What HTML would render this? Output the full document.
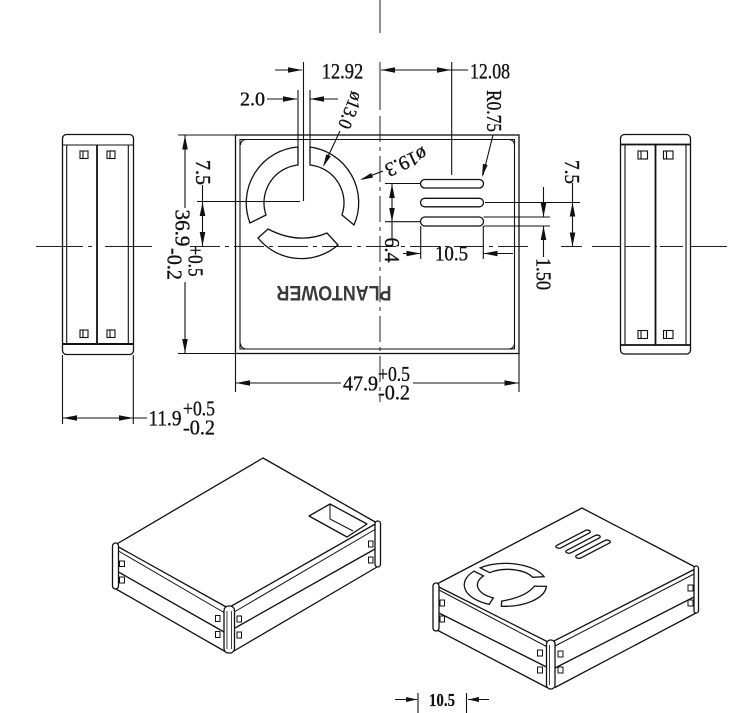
<!DOCTYPE html>
<html><head><meta charset="utf-8">
<style>
html,body{margin:0;padding:0;background:#fff;}
svg{display:block;}
text{font-family:"Liberation Serif",serif;fill:#111;}
</style></head><body>
<svg width="745" height="713" viewBox="0 0 745 713" xmlns="http://www.w3.org/2000/svg">
<defs>
<clipPath id="fanclip">
<g transform="matrix(0.5176 -0.2711 0.5275 0.2661 242.2 612.8)">
<path d="M298 147 A56 56 0 0 0 250 223 L266 215 A38 38 0 0 1 298 165 Z"/>
<path d="M310 147 A56 56 0 0 1 354 225 L342 215 A38 38 0 0 0 310 165 Z"/>
<path d="M268 229 Q298.5 245 327 233 L338 245 A56 56 0 0 1 258 238 Z"/>
</g>
</clipPath>
</defs>
<rect width="745" height="713" fill="#fff"/>

<!-- centre lines -->
<g fill="none" stroke="#222" stroke-width="1">
<path d="M380 0V33 M380 62V110"/>
<path d="M380 116V402" stroke-dasharray="26 5 4 5"/>
<path d="M36 246.5H153" stroke-dasharray="47 5 4 13"/>
<path d="M190 246.5H530" stroke-dasharray="30 5 4 5"/>
<path d="M561 246.5H582 M592 246.5H620 M625 246.5H650 M655 246.5H657 M660 246.5H683 M690 246.5H727"/>
</g>

<g fill="none" stroke="#111" stroke-width="1.1">
<!-- front view outline -->
<rect x="235.5" y="135" width="283.5" height="218.5" stroke-width="1.3"/>
<path d="M240 139.5H514.5V349H240Z"/>
<path d="M178 135H235 M178 353.5H235"/>
<path d="M240.5 145 A5.5 5.5 0 0 1 246 139.5 M509 139.5 A5.5 5.5 0 0 1 514.5 145 M514.5 343.5 A5.5 5.5 0 0 1 509 349 M240.5 343.5 A5.5 5.5 0 0 0 246 349"/>
<path d="M235.5 353V392 M519 353V392"/>

<!-- fan -->
<path d="M298 147 A56 56 0 0 0 250 223 L266 215 A38 38 0 0 1 298 165 Z" stroke-width="1.3"/>
<path d="M310 147 A56 56 0 0 1 354 225 L342 215 A38 38 0 0 0 310 165 Z" stroke-width="1.3"/>
<path d="M268 229 Q298.5 245 327 233 L338 245 A56 56 0 0 1 258 238 Z" stroke-width="1.3"/>
<path d="M298 90V147 M310 90V147"/>
<path d="M303.5 62V201 M197 201.5H300"/>

<!-- slots -->
<rect x="420.5" y="179.5" width="63" height="8.5" rx="4.25" stroke-width="1.3"/>
<rect x="420.5" y="198.3" width="63" height="8.5" rx="4.25" stroke-width="1.3"/>
<rect x="420.5" y="217" width="63" height="9" rx="4.5" stroke-width="1.3"/>

<path d="M385 183.5H420.5 M385 221.7H420.5 M485 202.5H580 M483.5 217H550 M483.5 226H550"/>
<path d="M451.7 62V175"/>
<path d="M420.7 226V259 M483.3 226V259"/>

<!-- dimension lines -->
<path d="M275 70H302"/>
<path d="M381 70H468"/>
<path d="M267 99H297 M310 99H338"/>
<path d="M340 131L324 165"/>
<path d="M383 171L362 179"/>
<path d="M493 135L483 175"/>
<path d="M202.5 185V246"/>
<path d="M185 135.5V208 M185 282V353"/>
<path d="M392 183.5V238"/>
<path d="M403 253.5H420.5 M483.5 253.5H513"/>
<path d="M543.5 187V217 M543.5 226V257"/>
<path d="M572.5 183V246.5"/>
<path d="M236 383H341 M413 383H518.5"/>

<!-- left side view -->
<rect x="62.5" y="134.5" width="71" height="220" rx="4" stroke-width="1.3"/>
<path d="M62.5 145H133.5"/>
<path d="M62.5 344H133.5" stroke-width="2"/>
<path d="M66.7 145V344 M128.3 145V344"/>
<path d="M97 145V344" stroke-width="1.8"/>
<rect x="80" y="151" width="8" height="7.5"/><path d="M83 151V158.5"/>
<rect x="107" y="151" width="8" height="7.5"/><path d="M110 151V158.5"/>
<rect x="80" y="330" width="8" height="7.5"/><path d="M83 330V337.5"/>
<rect x="107" y="330" width="8" height="7.5"/><path d="M110 330V337.5"/>
<path d="M62.5 355V424 M133.3 355V424"/>
<path d="M62.5 418H147"/>

<!-- right side view -->
<rect x="620.5" y="134.5" width="70" height="219.5" rx="4" stroke-width="1.3"/>
<path d="M620.5 144.5H690.5" stroke-width="1.8"/>
<path d="M620.5 345H690.5" stroke-width="1.8"/>
<path d="M625 144.5V345 M686 144.5V345"/>
<path d="M655.5 144.5V345" stroke-width="1.8"/>
<rect x="638" y="151" width="9.5" height="8"/><path d="M641 151V159"/>
<rect x="663.5" y="151" width="9.5" height="8"/><path d="M666.5 151V159"/>
<rect x="638" y="330.5" width="9.5" height="8"/><path d="M641 330.5V338.5"/>
<rect x="663.5" y="330.5" width="9.5" height="8"/><path d="M666.5 330.5V338.5"/>

<!-- bottom 10.5 dim -->
<path d="M418 693V713 M466.5 693V713"/>
<path d="M395 699.5H417 M468 699.5H489"/>
</g>

<!-- arrowheads -->
<g fill="#111" stroke="none">
<polygon points="302,70 288,67.2 288,72.8"/>
<polygon points="381,70 395,67.2 395,72.8"/>
<polygon points="451,70 437,67.2 437,72.8"/>
<polygon points="297,99 283,96.2 283,101.8"/>
<polygon points="310,99 324,96.2 324,101.8"/>
<polygon points="323,167 330.8,156.3 326.3,154.2"/>
<polygon points="360,180 373.0,177.6 371.2,173.0"/>
<polygon points="482,177 487.7,165.0 482.9,163.8"/>
<polygon points="202.5,202 199.7,216 205.3,216"/>
<polygon points="202.5,246 199.7,232 205.3,232"/>
<polygon points="185,135.5 182.2,149.5 187.8,149.5"/>
<polygon points="185,353 182.2,339 187.8,339"/>
<polygon points="392,184 389.2,198 394.8,198"/>
<polygon points="392,222 389.2,208 394.8,208"/>
<polygon points="420.5,253.5 406.5,250.7 406.5,256.3"/>
<polygon points="483.5,253.5 497.5,250.7 497.5,256.3"/>
<polygon points="543.5,217 540.7,203 546.3,203"/>
<polygon points="543.5,226 540.7,240 546.3,240"/>
<polygon points="572.5,202.5 569.7,216.5 575.3,216.5"/>
<polygon points="572.5,246.5 569.7,232.5 575.3,232.5"/>
<polygon points="236,383 250,380.2 250,385.8"/>
<polygon points="518.5,383 504.5,380.2 504.5,385.8"/>
<polygon points="63,418 77,415.2 77,420.8"/>
<polygon points="133,418 119,415.2 119,420.8"/>
<polygon points="417,699.5 406,697 406,702"/>
<polygon points="468,699.5 479,697 479,702"/>
</g>

<!-- LEFT 3D BOX -->
<g fill="none" stroke="#111" stroke-width="1.3" stroke-linejoin="round">
<path d="M115 545 L263 458 L377 523 L228 608 Z" fill="#fff"/>
<path d="M118.5 551 L224 612.5" stroke-width="1"/>
<path d="M118.5 572 L224 632"/>
<path d="M116 589 L226 652"/>
<path d="M235 611.5 L375 529.5" stroke-width="1"/>
<path d="M235 628 L375 549"/>
<path d="M234 651 L377 567"/>
<rect x="112.5" y="543" width="6" height="46" rx="3" fill="#fff"/>
<rect x="224" y="606" width="10.5" height="47" rx="4.5" fill="#fff"/>
<path d="M227 611V649 M231.5 611V649" stroke-width="0.8"/>
<rect x="375" y="521" width="5.5" height="46" rx="2.75" fill="#fff"/>
<path d="M309 516 L330 504 L367 524 L347 537 Z"/>
<path d="M330 504 V519 L353 531" stroke-width="1"/>
</g>
<g fill="none" stroke="#111" stroke-width="1">
<rect x="119.5" y="561" width="5" height="5.5"/>
<rect x="119.5" y="577" width="5" height="6"/>
<rect x="215.5" y="615.5" width="4.5" height="6"/>
<rect x="215.5" y="631.5" width="4.5" height="6"/>
<rect x="237" y="616" width="4.5" height="6"/>
<rect x="237" y="632" width="4.5" height="6"/>
<rect x="368.5" y="541" width="4.5" height="6"/>
<rect x="368.5" y="557" width="4.5" height="6"/>
</g>

<!-- RIGHT 3D BOX -->
<g fill="none" stroke="#111" stroke-width="1.3" stroke-linejoin="round">
<path d="M435 585 L582 508 L697 568 L550 643 Z" fill="#fff"/>
<path d="M439 590 L546.5 646.5" stroke-width="1"/>
<path d="M439 613 L546.5 667"/>
<path d="M437 630 L547 687.5"/>
<path d="M555 646 L694 574" stroke-width="1"/>
<path d="M555 668 L694 597"/>
<path d="M555 687.5 L696 613"/>
<rect x="433" y="583" width="6" height="48" rx="3" fill="#fff"/>
<rect x="546.5" y="640" width="8.5" height="49" rx="4" fill="#fff"/>
<path d="M549.5 645V685" stroke-width="0.8"/>
<rect x="694" y="566" width="4.5" height="47" rx="2.25" fill="#fff"/>
</g>
<g fill="none" stroke="#111" stroke-width="1">
<rect x="440" y="600" width="4.5" height="6"/>
<rect x="440" y="616" width="4.5" height="6"/>
<rect x="537.5" y="650" width="5" height="6"/>
<rect x="537.5" y="667" width="5" height="6"/>
<rect x="558" y="651" width="5" height="6"/>
<rect x="558" y="667" width="5" height="6"/>
<rect x="688" y="585" width="5" height="6"/>
<rect x="688" y="600" width="5" height="6"/>
</g>
<g clip-path="url(#fanclip)">
<g transform="translate(0 3.5)">
<g transform="matrix(0.5176 -0.2711 0.5275 0.2661 242.2 612.8)" fill="none" stroke="#111" stroke-width="1">
<path vector-effect="non-scaling-stroke" d="M298 147 A56 56 0 0 0 250 223 L266 215 A38 38 0 0 1 298 165 Z"/>
<path vector-effect="non-scaling-stroke" d="M310 147 A56 56 0 0 1 354 225 L342 215 A38 38 0 0 0 310 165 Z"/>
<path vector-effect="non-scaling-stroke" d="M268 229 Q298.5 245 327 233 L338 245 A56 56 0 0 1 258 238 Z"/>
</g>
</g>
</g>
<g transform="matrix(0.5176 -0.2711 0.5275 0.2661 242.2 612.8)" fill="none" stroke="#111" stroke-width="1.3">
<path vector-effect="non-scaling-stroke" d="M298 147 A56 56 0 0 0 250 223 L266 215 A38 38 0 0 1 298 165 Z"/>
<path vector-effect="non-scaling-stroke" d="M310 147 A56 56 0 0 1 354 225 L342 215 A38 38 0 0 0 310 165 Z"/>
<path vector-effect="non-scaling-stroke" d="M268 229 Q298.5 245 327 233 L338 245 A56 56 0 0 1 258 238 Z"/>
<rect vector-effect="non-scaling-stroke" x="420.5" y="179.5" width="63" height="8.5" rx="4.25"/>
<rect vector-effect="non-scaling-stroke" x="420.5" y="198.3" width="63" height="8.5" rx="4.25"/>
<rect vector-effect="non-scaling-stroke" x="420.5" y="217" width="63" height="9" rx="4.5"/>
</g>

<!-- TEXT -->
<g font-size="21" text-anchor="middle" dominant-baseline="central" stroke="#111" stroke-width="0.35">
<text x="342.5" y="70.8" font-size="22" textLength="41.6" lengthAdjust="spacingAndGlyphs">12.92</text>
<text x="490" y="70.8" font-size="22" textLength="40" lengthAdjust="spacingAndGlyphs">12.08</text>
<text x="252.5" y="99.5" font-size="20" textLength="25" lengthAdjust="spacingAndGlyphs">2.0</text>
<text transform="translate(350 110) rotate(112)" font-size="19" textLength="38" lengthAdjust="spacingAndGlyphs">ø13.0</text>
<text transform="translate(494 111) rotate(90)" font-size="21" textLength="42" lengthAdjust="spacingAndGlyphs">R0.75</text>
<text transform="translate(406 161.5) rotate(155)" font-size="20" textLength="44" lengthAdjust="spacingAndGlyphs">ø19.3</text>
<text transform="translate(203 172.5) rotate(90)" textLength="25" lengthAdjust="spacingAndGlyphs">7.5</text>
<text transform="translate(182.5 228) rotate(90)" textLength="37" lengthAdjust="spacingAndGlyphs">36.9</text>
<text transform="translate(195.5 261) rotate(90)" textLength="31" lengthAdjust="spacingAndGlyphs">+0.5</text>
<text transform="translate(174.5 264) rotate(90)" textLength="32" lengthAdjust="spacingAndGlyphs">-0.2</text>
<text transform="translate(392 250) rotate(90)" textLength="25" lengthAdjust="spacingAndGlyphs">6.4</text>
<text x="451.5" y="253.5" textLength="33" lengthAdjust="spacingAndGlyphs">10.5</text>
<text transform="translate(543.5 274) rotate(90)" textLength="32" lengthAdjust="spacingAndGlyphs">1.50</text>
<text transform="translate(572 172) rotate(90)" textLength="24" lengthAdjust="spacingAndGlyphs">7.5</text>
<text x="360.5" y="383.5" textLength="35" lengthAdjust="spacingAndGlyphs">47.9</text>
<text x="394" y="374" textLength="32" lengthAdjust="spacingAndGlyphs">+0.5</text>
<text x="394" y="392.5" textLength="32" lengthAdjust="spacingAndGlyphs">-0.2</text>
<text x="165" y="418" font-size="22" textLength="33" lengthAdjust="spacingAndGlyphs">11.9</text>
<text x="199" y="408.5" textLength="32" lengthAdjust="spacingAndGlyphs">+0.5</text>
<text x="199" y="427.5" textLength="32" lengthAdjust="spacingAndGlyphs">-0.2</text>
<text x="442" y="700" font-size="18" font-weight="bold" stroke-width="0.2" textLength="26" lengthAdjust="spacingAndGlyphs">10.5</text>
<text transform="translate(334 292.5) rotate(180)" style="font-family:'Liberation Sans',sans-serif;fill:#3a3a3a" stroke="none" font-size="21" font-weight="bold" textLength="115" lengthAdjust="spacingAndGlyphs">PLANTOWER</text>
</g>
</svg>
</body></html>
